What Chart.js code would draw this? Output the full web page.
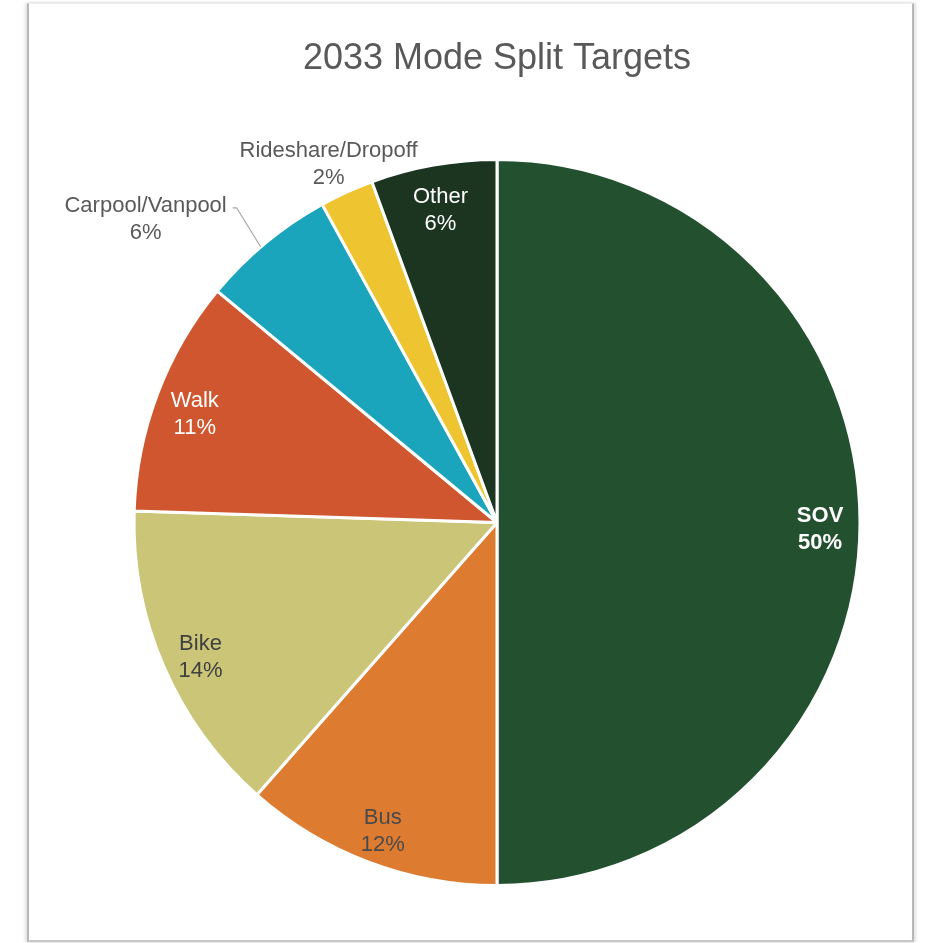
<!DOCTYPE html>
<html>
<head>
<meta charset="utf-8">
<script src="https://cdn.jsdelivr.net/npm/chart.js@4/dist/chart.umd.min.js"></script>
<style>
  html, body { margin: 0; padding: 0; background: #fff; }
  #frame {
    position: absolute; left: 27px; top: 3px; width: 883px; height: 936px;
    border-left: 2px solid #b8b8b8; border-right: 2px solid #b8b8b8;
    border-top: 1px solid #ececec; border-bottom: 2px solid #c8c8c8;
    box-shadow: -2px 0 3px rgba(0,0,0,0.12), 2px 0 3px rgba(0,0,0,0.12);
  }
  #wrap { position: absolute; left: 0; top: 0; width: 927px; height: 943px; }
</style>
</head>
<body>
<div id="frame"></div>
<div id="wrap"><canvas id="pieChart" width="927" height="943"></canvas></div>
<script>
// ================== DATA ==================
const modes = ['SOV', 'Bus', 'Bike', 'Walk', 'Carpool/Vanpool', 'Rideshare/Dropoff', 'Other'];
const shares = [50, 11.5, 14, 10.5, 6, 2.4, 5.6];
const sliceColors = ['#23512f', '#dd7c31', '#cbc578', '#d0562f', '#1aa5bd', '#eec530', '#1b3521'];
const labelColors = ['#ffffff', '#4a4a4a', '#404040', '#ffffff', '#595959', '#595959', '#ffffff'];

// ================== LABEL PLUGIN ==================
// inside labels sit along the mid angle; outside ones get an offset from the rim
const outsideLabels = {
  4: { dx: -120, dy: -24, leader: true },
  5: { dx: -18, dy: -28, leader: false }
};

const sliceLabels = {
  id: 'sliceLabels',
  afterDatasetsDraw(chart) {
    const ctx = chart.ctx;
    const meta = chart.getDatasetMeta(0);
    const total = shares.reduce((a, b) => a + b, 0);
    meta.data.forEach((arc, i) => {
      const p = arc.getProps(['x', 'y', 'startAngle', 'endAngle', 'outerRadius'], true);
      const mid = (p.startAngle + p.endAngle) / 2;
      const pct = Math.round(shares[i] / total * 100) + '%';
      let lx, ly;
      const out = outsideLabels[i];
      if (out) {
        const ex = p.x + Math.cos(mid) * p.outerRadius;
        const ey = p.y + Math.sin(mid) * p.outerRadius;
        lx = ex + out.dx;
        ly = ey + out.dy;
        if (out.leader) {
          ctx.save();
          ctx.strokeStyle = '#a6a6a6';
          ctx.lineWidth = 1.2;
          ctx.beginPath();
          ctx.moveTo(ex - 5, ey + 4);
          ctx.lineTo(lx + 91, ly - 11);
          ctx.lineTo(lx + 87, ly - 11);
          ctx.stroke();
          ctx.restore();
        }
      } else {
        lx = p.x + Math.cos(mid) * p.outerRadius * 0.89;
        ly = p.y + Math.sin(mid) * p.outerRadius * 0.89 + 6;
      }
      ctx.save();
      ctx.fillStyle = labelColors[i];
      ctx.textAlign = 'center';
      ctx.textBaseline = 'middle';
      ctx.font = (i === 0 ? 'bold ' : '') + '22px "Liberation Sans", Arial, sans-serif';
      ctx.fillText(modes[i], lx, ly - 13);
      ctx.fillText(pct, lx, ly + 14);
      ctx.restore();
    });
  }
};

// ================== CHART ==================
new Chart(document.getElementById('pieChart').getContext('2d'), {
  type: 'pie',
  data: {
    labels: modes,
    datasets: [{
      data: shares,
      backgroundColor: sliceColors,
      borderColor: '#ffffff',
      borderWidth: 3
    }]
  },
  options: {
    responsive: false,
    animation: false,
    layout: { padding: { left: 132, right: 65, top: 20, bottom: 56 } },
    plugins: {
      legend: { display: false },
      tooltip: { enabled: false },
      title: {
        display: true,
        text: '2033 Mode Split Targets',
        color: '#595959',
        font: { family: '"Liberation Sans", Arial, sans-serif', size: 36, weight: 'normal', lineHeight: 1.2 },
        padding: { top: 17, bottom: 77.8 }
      }
    }
  },
  plugins: [sliceLabels]
});
</script>
</body>
</html>
